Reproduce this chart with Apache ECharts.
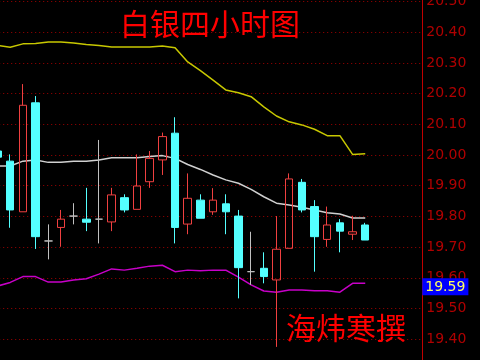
<!DOCTYPE html>
<html><head><meta charset="utf-8">
<script src="https://cdn.jsdelivr.net/npm/echarts@6/dist/echarts.min.js"></script>
<style>html,body{margin:0;padding:0;background:#000}#c{width:480px;height:360px}</style>
</head><body><div id="c"></div>
<script>
// 4-hour bars (first bar partly off the left edge, last 4 slots empty)
const categories = ['b0','b1','b2','b3','b4','b5','b6','b7','b8','b9','b10','b11','b12','b13','b14','b15','b16','b17','b18','b19','b20','b21','b22','b23','b24','b25','b26','b27','b28','b29','e1','e2','e3','e4'];
const opens  = [20.013,19.980,19.815,20.170,19.720,19.764,19.801,19.791,19.791,19.782,19.861,19.823,19.913,19.984,20.071,19.775,19.853,19.815,19.841,19.801,19.620,19.631,19.593,19.696,19.911,19.832,19.725,19.779,19.742,19.772];
const closes = [19.993,19.821,20.162,19.734,19.720,19.791,19.801,19.781,19.791,19.870,19.821,19.899,19.989,20.060,19.764,19.859,19.794,19.853,19.815,19.633,19.620,19.604,19.693,19.922,19.821,19.734,19.772,19.752,19.750,19.723];
const lows   = [19.980,19.763,19.815,19.694,19.660,19.701,19.774,19.752,19.712,19.752,19.813,19.823,19.893,19.935,19.712,19.742,19.794,19.805,19.742,19.533,19.577,19.582,19.375,19.696,19.813,19.620,19.701,19.683,19.723,19.723];
const highs  = [20.020,20.002,20.231,20.192,19.774,19.821,19.843,19.893,20.049,19.893,19.872,20.002,20.013,20.073,20.123,19.940,19.872,19.892,19.872,19.821,19.750,19.683,19.801,19.940,19.922,19.853,19.832,19.791,19.802,19.779];
const upperBand = [20.357,20.351,20.362,20.363,20.368,20.368,20.365,20.360,20.357,20.352,20.352,20.352,20.352,20.355,20.349,20.303,20.275,20.244,20.212,20.203,20.190,20.157,20.127,20.108,20.098,20.084,20.063,20.063,20.002,20.004];
const midBand   = [19.964,19.964,19.980,19.984,19.976,19.976,19.980,19.980,19.984,19.991,19.991,19.991,19.995,19.998,19.989,19.969,19.953,19.935,19.919,19.908,19.888,19.864,19.843,19.837,19.830,19.821,19.812,19.808,19.795,19.795];
const lowerBand = [19.573,19.585,19.604,19.604,19.586,19.586,19.593,19.597,19.612,19.629,19.625,19.631,19.638,19.641,19.620,19.625,19.623,19.625,19.625,19.602,19.577,19.557,19.553,19.560,19.560,19.558,19.558,19.553,19.582,19.582];
const yMin = 19.3, yMax = 20.6, yStep = 0.1;
const priceTag = 19.59;
const titleText = '白银四小时图';
const authorText = '海炜寒撰';

const candleData = opens.map((o, i) => [o, closes[i], lows[i], highs[i]]);

const chart = echarts.init(document.getElementById('c'), null, {renderer: 'canvas'});
const lineSeries = (data, color) => ({
  type: 'line', data: data, symbol: 'none', z: 2, silent: true,
  lineStyle: {color: color, width: 1.5}, animation: false
});
chart.setOption({
  backgroundColor: '#000',
  animation: false,
  grid: {left: -8.8, right: 57.7, top: -29.2, bottom: -9.9, containLabel: false, outerBoundsMode: 'none'},
  xAxis: {type: 'category', data: categories, show: false, boundaryGap: true},
  yAxis: {
    type: 'value', position: 'right', min: yMin, max: yMax, interval: yStep, scale: true,
    axisLine: {show: true, lineStyle: {color: '#c00000', width: 1}},
    axisTick: {show: false},
    axisLabel: {color: '#b00000', fontFamily: 'DejaVu Sans', fontSize: 14, margin: 4,
      padding: [6, 0, 0, 0],
      formatter: v => v.toFixed(2)},
    splitLine: {show: true, lineStyle: {color: '#a00000', type: [1, 3], width: 1}}
  },
  series: [
    lineSeries(upperBand, '#c8c800'),
    lineSeries(midBand, '#d0d0d0'),
    Object.assign(lineSeries(lowerBand, '#c800c8'), {
      markLine: {
        silent: true, symbol: 'none', animation: false, z: 20,
        lineStyle: {color: 'rgba(0,0,0,0)', width: 0},
        data: [{yAxis: priceTag}],
        label: {show: true, position: 'end', distance: 0, offset: [0, 6],
          formatter: priceTag.toFixed(2),
          color: '#ffff60', backgroundColor: '#0000ff',
          fontFamily: 'DejaVu Sans', fontSize: 14, padding: [2, 3, 1, 3]}
      }
    }),
    {
      type: 'candlestick', data: candleData, z: 3, barWidth: 8, silent: true,
      itemStyle: {
        color: 'rgba(0,0,0,0)', color0: '#54ffff',
        borderColor: '#f04040', borderColor0: '#54ffff',
        borderColorDoji: '#c0c0c0', borderWidth: 1
      }
    }
  ],
  graphic: [
    {type: 'text', x: 210, y: 23.5, z: 10, silent: true,
      style: {text: titleText, fill: '#ff0000', font: '30px "Noto Sans CJK SC"', textAlign: 'center', textVerticalAlign: 'middle'}},
    {type: 'text', x: 346, y: 327.5, z: 10, silent: true,
      style: {text: authorText, fill: '#ff0000', font: '30px "Noto Sans CJK SC"', textAlign: 'center', textVerticalAlign: 'middle'}}
  ]
});
</script>
</body></html>
